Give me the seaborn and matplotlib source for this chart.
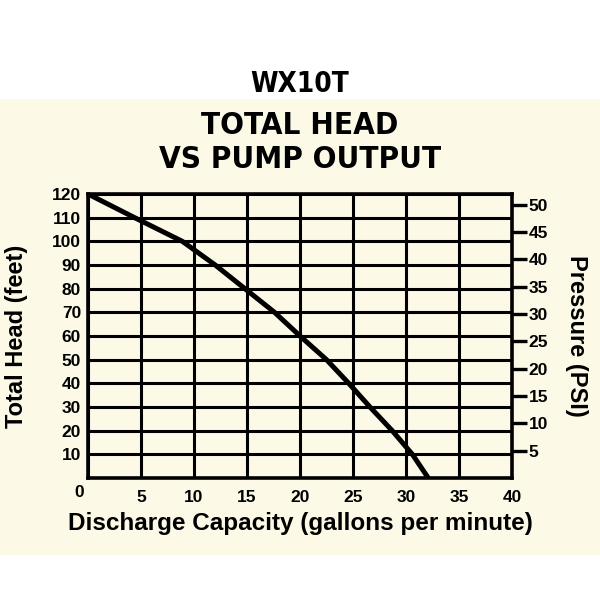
import matplotlib
matplotlib.use("Agg")
import matplotlib.pyplot as plt
import matplotlib.transforms as mtransforms
from matplotlib.patches import Rectangle
import seaborn as sns
import pandas as pd

# ---- data ----
flow_gpm = [0, 4.4, 8.9, 12.0, 14.8, 17.6, 20.0, 22.5, 24.6, 26.6, 28.7, 30.6, 32.1]
head_ft = [120, 110, 100, 90, 80, 70, 60, 50, 40, 30, 20, 10, 0]
x_ticks = [0, 5, 10, 15, 20, 25, 30, 35, 40]
y_ticks = [10, 20, 30, 40, 50, 60, 70, 80, 90, 100, 110, 120]
psi_ticks = [5, 10, 15, 20, 25, 30, 35, 40, 45, 50]
FT_PER_PSI = 2.31

title_model = "WX10T"
title_line1 = "TOTAL HEAD"
title_line2 = "VS PUMP OUTPUT"
x_label = "Discharge Capacity (gallons per minute)"
y_label = "Total Head (feet)"
y2_label = "Pressure (PSI)"

sns.set_style("white")
plt.rcParams['font.family'] = ['Liberation Sans', 'DejaVu Sans']
plt.rcParams['text.color'] = 'black'
plt.rcParams['axes.labelcolor'] = 'black'
plt.rcParams['xtick.color'] = 'black'
plt.rcParams['ytick.color'] = 'black'

cream = "#fcfae6"
fig = plt.figure(figsize=(6, 6), dpi=100)
fig.patch.set_facecolor("white")
bg = Rectangle((0, 1 - 555 / 600), 1, (555 - 99) / 600,
               transform=fig.transFigure, facecolor=cream,
               edgecolor="none", zorder=-10)
fig.patches.append(bg)

ax = fig.add_axes([88 / 600, 1 - 478 / 600, 424 / 600, 284 / 600])
ax.set_facecolor(cream)

df = pd.DataFrame({"flow": flow_gpm, "head": head_ft})
sns.lineplot(data=df, x="flow", y="head", ax=ax, color="black",
             linewidth=3.6, zorder=5, solid_capstyle="butt")

ax.set_xlim(0, 40)
ax.set_ylim(0, 120)
ax.set_xticks(x_ticks)
ax.set_yticks(y_ticks)
ax.grid(True, color="black", linewidth=2.2)
ax.set_axisbelow(True)
for s in ax.spines.values():
    s.set_color("black")
    s.set_linewidth(2.6)
ax.tick_params(axis="both", length=0, labelsize=12.5)
ax.tick_params(axis="x", pad=9)
ax.tick_params(axis="y", pad=5)
ax.set_xticklabels([str(v) for v in x_ticks], fontweight="bold")
ax.set_yticklabels([str(v) for v in y_ticks], fontweight="bold")
lbl0 = ax.get_xticklabels()[0]
lbl0.set_transform(lbl0.get_transform() +
                   mtransforms.ScaledTranslation(-6 / 72, 4 / 72, fig.dpi_scale_trans))
ax.set_xlabel(x_label, fontsize=17.5, fontweight="bold", labelpad=5)
ax.set_ylabel(y_label, fontsize=17, fontweight="bold", labelpad=17)

ax2 = ax.twinx()
ax2.set_ylim(0, 120 / FT_PER_PSI)
ax2.set_yticks(psi_ticks)
ax2.set_yticklabels([str(v) for v in psi_ticks], fontweight="bold")
ax2.tick_params(axis="y", length=11, width=2.4, color="black", labelsize=12.5, pad=1)
for s in ax2.spines.values():
    s.set_visible(False)
ax2.set_ylabel(y2_label, fontsize=17, fontweight="bold", rotation=270, labelpad=29)

narrow = dict(family="DejaVu Sans", fontstretch="condensed", fontweight="bold")
fig.text(0.5, 1 - 84 / 600, title_model, ha="center", va="center",
         fontsize=20, **narrow)
fig.text(0.5, 1 - 125 / 600, title_line1, ha="center", va="center",
         fontsize=22.5, **narrow)
fig.text(0.5, 1 - 159 / 600, title_line2, ha="center", va="center",
         fontsize=22.5, **narrow)

fig.savefig("out.png", dpi=100, facecolor="white")
